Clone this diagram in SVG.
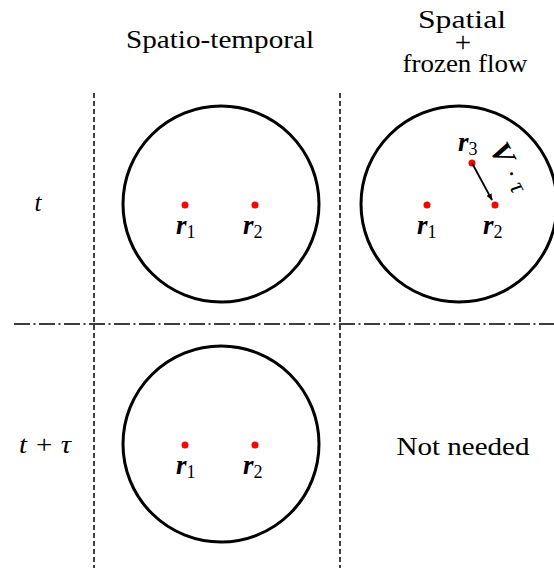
<svg xmlns="http://www.w3.org/2000/svg" width="554" height="568" viewBox="0 0 554 568">
<style>
text{font-family:'Liberation Serif','DejaVu Serif',serif;fill:#000}
.txt{font-size:25px}
.it{font-style:italic}
.bi{font-style:italic;font-weight:bold;font-size:27px}
.sub{font-size:18px;font-weight:normal;font-style:normal}
.circ{fill:none;stroke:#000;stroke-width:3}
.dot{fill:#ff0000}
.vdash{stroke:#000;stroke-width:1.5;stroke-dasharray:5 3}
.hdash{stroke:#000;stroke-width:1.5;stroke-dasharray:16 3.5 2 3.5}
</style>
<defs>
<marker id="ah" viewBox="0 0 10 10" refX="9" refY="5" markerWidth="7" markerHeight="7" orient="auto" markerUnits="userSpaceOnUse">
<path d="M0,1 L10,5 L0,9 Z" fill="#000"/>
</marker>
</defs>
<g id="grid">
<line class="vdash" x1="94" y1="93" x2="94" y2="568"/>
<line class="vdash" x1="340" y1="93" x2="340" y2="568"/>
<line class="hdash" x1="14" y1="324" x2="554" y2="324"/>
</g>
<g id="headers">
<text class="txt" x="220" y="48" text-anchor="middle" textLength="188" lengthAdjust="spacingAndGlyphs">Spatio-temporal</text>
<text class="txt" x="462" y="28" text-anchor="middle" textLength="88" lengthAdjust="spacingAndGlyphs">Spatial</text>
<text x="463" y="52" text-anchor="middle" style="font-size:29px">+</text>
<text class="txt" x="465" y="72" text-anchor="middle" textLength="125" lengthAdjust="spacingAndGlyphs">frozen flow</text>
<text class="txt it" x="38" y="211" text-anchor="middle">t</text>
<text class="txt it" x="45" y="453" text-anchor="middle" textLength="52" lengthAdjust="spacingAndGlyphs">t + τ</text>
</g>
<g id="node-st-t">
<circle class="circ" cx="221" cy="204" r="98"/>
<circle class="dot" cx="185" cy="205" r="3.5"/>
<circle class="dot" cx="255" cy="205" r="3.5"/>
<text class="txt bi" x="176" y="234">r<tspan class="sub" dy="4">1</tspan></text>
<text class="txt bi" x="243" y="234">r<tspan class="sub" dy="4">2</tspan></text>
</g>
<g id="node-sf-t">
<circle class="circ" cx="459" cy="204" r="98"/>
<circle class="dot" cx="427" cy="205" r="3.5"/>
<circle class="dot" cx="495" cy="205" r="3.5"/>
<circle class="dot" cx="472" cy="163" r="3.5"/>
<text class="txt bi" x="417" y="234">r<tspan class="sub" dy="4">1</tspan></text>
<text class="txt bi" x="483" y="234">r<tspan class="sub" dy="4">2</tspan></text>
<text class="txt bi" x="458" y="151">r<tspan class="sub" dy="4">3</tspan></text>
<text class="txt" transform="translate(489,149) rotate(62)"><tspan style="font-style:italic;font-weight:bold;font-size:30px">V</tspan><tspan dx="2"> · </tspan><tspan class="it">τ</tspan></text>
</g>
<g id="node-st-ttau">
<circle class="circ" cx="221" cy="444" r="98"/>
<circle class="dot" cx="185" cy="445" r="3.5"/>
<circle class="dot" cx="255" cy="445" r="3.5"/>
<text class="txt bi" x="176" y="474">r<tspan class="sub" dy="4">1</tspan></text>
<text class="txt bi" x="243" y="474">r<tspan class="sub" dy="4">2</tspan></text>
</g>
<g id="node-sf-ttau">
<text class="txt" x="463" y="455" text-anchor="middle" textLength="133" lengthAdjust="spacingAndGlyphs">Not needed</text>
</g>
<g id="connectors">
<line x1="472" y1="163" x2="492" y2="200" stroke="#000" stroke-width="1.8" marker-end="url(#ah)"/>
</g>
</svg>
